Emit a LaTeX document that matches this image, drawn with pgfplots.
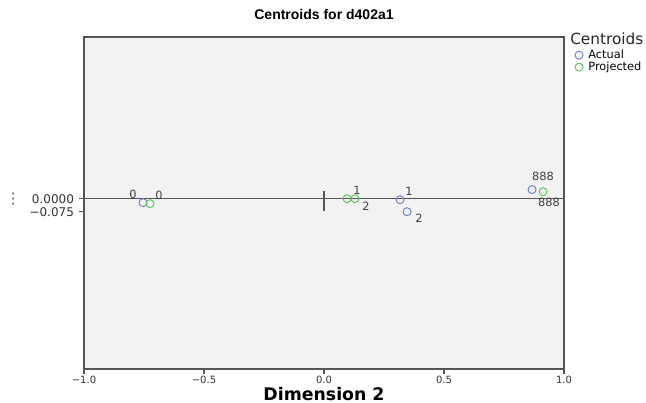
\documentclass[border=0pt]{standalone}
\usepackage{pgfplots}
\pgfplotsset{compat=1.18}
\usepackage{fontspec}
\setmainfont{DejaVu Sans}
\newfontfamily\titlefont{Liberation Sans}
\definecolor{actual}{RGB}{110,125,200}
\definecolor{proj}{RGB}{90,195,90}
\definecolor{bg}{RGB}{242,242,242}
\definecolor{frame}{RGB}{85,85,85}
\begin{document}
\begin{tikzpicture}
\useasboundingbox (-63pt,-25.5pt) rectangle (421.5pt,276.75pt);
\begin{axis}[
  at={(0pt,0pt)}, anchor=south west,
  scale only axis, width=360pt, height=249pt,
  xmin=-1, xmax=1, ymin=-0.98, ymax=0.93,
  axis background/.style={fill=bg},
  axis line style={frame, line width=1pt},
  xtick={-1,-0.5,0,0.5,1},
  xticklabels={−1.0,−0.5,0.0,0.5,1.0},
  ytick={-0.075,0},
  yticklabels={−0.075,0.0000},
  tick align=outside, major tick length=4pt,
  tick style={frame, line width=0.8pt},
  xtick pos=bottom, ytick pos=left,
  xticklabel style={font=\fontsize{7.5}{8}\selectfont, color=black!80, yshift=2.5pt},
  yticklabel style={font=\fontsize{9}{10}\selectfont, color=black!80},
  title={Centroids for d402a1},
  title style={at={(axis description cs:0.5,1)}, anchor=center, yshift=10.5pt, font=\titlefont\fontsize{10.5}{12}\selectfont\bfseries},
  xlabel={Dimension 2},
  xlabel style={at={(axis description cs:0.5,0)}, anchor=center, yshift=-18.5pt, font=\fontsize{13}{15}\selectfont\bfseries},
  legend style={at={(axis description cs:1.0225,0.97)}, anchor=north west, draw=none, fill=none,
    font=\fontsize{8.5}{9}\selectfont, inner sep=0pt, row sep=-3pt, column sep=2pt},
  legend cell align=left,
  legend image code/.code={\draw[#1] plot coordinates {(0pt,0pt)};},
  clip=false,
]
\addplot[frame, line width=1pt, forget plot] coordinates {(-1,0) (1,0)};
\addplot[frame, line width=1.3pt, forget plot] coordinates {(0,0.046) (0,-0.069)};
\addplot[only marks, mark=o, mark size=3pt, draw=actual, mark options={line width=0.7pt}] coordinates {
  (-0.754,-0.023) (0.317,-0.006) (0.346,-0.075) (0.867,0.052)};
\addlegendentry{Actual}
\addplot[only marks, mark=o, mark size=3pt, draw=proj, mark options={line width=0.7pt}] coordinates {
  (-0.725,-0.029) (0.129,0) (0.096,0) (0.913,0.040)};
\addlegendentry{Projected}
\begin{scope}[every node/.style={font=\fontsize{8.5}{9}\selectfont, text=black!75, inner sep=0pt}]
\node at (axis cs:-0.796,0.023) {0};
\node at (axis cs:-0.6875,0.017) {0};
\node at (axis cs:0.1375,0.046) {1};
\node at (axis cs:0.175,-0.046) {2};
\node at (axis cs:0.354,0.040) {1};
\node at (axis cs:0.396,-0.115) {2};
\node at (axis cs:0.9125,0.127) {888};
\node at (axis cs:0.9375,-0.023) {888};
\end{scope}
\node[anchor=west, font=\fontsize{11.5}{13}\selectfont, text=black!85, inner sep=0pt] at ([xshift=4.5pt,yshift=-1pt]axis description cs:1,1) {Centroids};
\node[font=\fontsize{11}{12}\selectfont, text=black!70] at ([xshift=-53pt]axis cs:-1,0) {⋮};
\end{axis}
\end{tikzpicture}
\end{document}
